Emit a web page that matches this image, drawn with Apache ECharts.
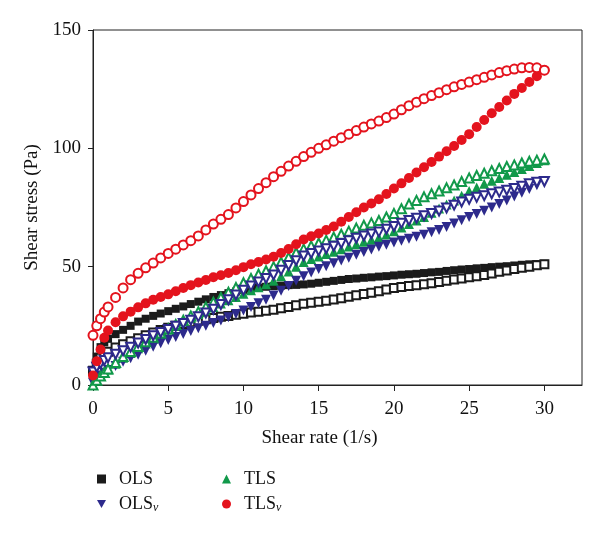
<!DOCTYPE html>
<html>
<head>
<meta charset="utf-8">
<script src="https://cdn.jsdelivr.net/npm/echarts@6/dist/echarts.min.js"></script>
<style>
    html, body { margin: 0; padding: 0; background: #fff; }
    #chart { width: 600px; height: 537px; }
</style>
</head>
<body>
<div id="chart"></div>
<script>
    // shear rate (1/s), shared by every curve
    const rate = [0, 0.25, 0.5, 0.75,
        1, 1.5, 2, 2.5, 3, 3.5, 4, 4.5, 5, 5.5,
        6, 6.5, 7, 7.5, 8, 8.5, 9, 9.5, 10, 10.5,
        11, 11.5, 12, 12.5, 13, 13.5, 14, 14.5, 15, 15.5,
        16, 16.5, 17, 17.5, 18, 18.5, 19, 19.5, 20, 20.5,
        21, 21.5, 22, 22.5, 23, 23.5, 24, 24.5, 25, 25.5,
        26, 26.5, 27, 27.5, 28, 28.5, 29, 29.5, 30];

    // shear stress (Pa): up curve = filled marks, down curve = open marks
    const olsUp = [5, 12, 16, 18,
        19.5, 21.5, 23.3, 25, 26.8, 28, 29.2, 30.2, 31.2, 32.2,
        33.2, 34.2, 35.2, 36.2, 37.2, 38, 38.8, 39.5, 40.2, 40.8,
        41.2, 41.5, 41.8, 42, 42.2, 42.3, 42.5, 42.8, 43.2, 43.6,
        44, 44.4, 44.8, 45, 45.3, 45.5, 45.8, 46, 46.3, 46.6,
        46.8, 47, 47.3, 47.6, 47.8, 48.2, 48.5, 48.8, 49, 49.3,
        49.5, 49.8, 50, 50.2, 50.5, 50.8, 51, 51.1, 51.2];
    const olsDown = [6, 9, 11.5, 13,
        14, 15.8, 17.2, 18.5, 19.8, 21, 22.2, 23.2, 24.2, 25,
        25.8, 26.5, 27.2, 27.8, 28.3, 28.8, 29.2, 29.7, 30.1, 30.6,
        31, 31.4, 31.8, 32.4, 33, 33.7, 34.3, 34.8, 35.2, 35.6,
        36.1, 36.7, 37.3, 37.9, 38.5, 39, 39.6, 40.3, 41, 41.4,
        41.8, 42.2, 42.6, 43, 43.5, 44, 44.6, 45, 45.5, 46,
        46.5, 47.1, 47.8, 48.4, 49, 49.5, 50, 50.6, 51];
    const olsvUp = [1, 2.5, 4, 5.2,
        6.3, 8, 9.8, 11.3, 12.8, 14.5, 16.2, 17.6, 19, 20.3,
        21.6, 22.8, 24, 25, 26.2, 27.3, 28.6, 30, 31.5, 33,
        34.5, 36, 37.8, 39.8, 41.8, 44, 46, 47.5, 49, 50.2,
        51.4, 52.6, 53.8, 55, 56.2, 57.3, 58.4, 59.3, 60.2, 61,
        61.8, 62.6, 63.5, 64.5, 65.5, 66.8, 68.2, 69.6, 71, 72.3,
        73.6, 75, 76.5, 78, 79.6, 81.2, 82.8, 84.4, 86];
    const olsvDown = [5.5, 7.5, 9, 10.3,
        11.5, 13, 14.5, 16, 17.7, 19.2, 20.8, 22.2, 23.5, 24.8,
        26, 27.4, 28.8, 30.4, 32, 34, 36, 38, 40, 41.8,
        43.5, 45, 46.5, 48.5, 50.5, 52.5, 54.5, 55.6, 56.6, 57.6,
        58.6, 59.8, 61, 62, 63, 63.8, 64.6, 65.8, 67, 68.3,
        69.5, 70.5, 71.5, 72.5, 73.5, 74.8, 76, 77.3, 78.5, 79.3,
        80, 80.8, 81.5, 82.3, 83, 84, 85, 85.7, 86];
    const tlsUp = [0, 2, 4, 5.3,
        6.5, 9, 11.5, 13.5, 15.5, 17.5, 19.5, 21.5, 23.3, 25,
        26.8, 28.4, 30, 31.5, 33, 34.4, 35.8, 37.2, 38.6, 40,
        41.3, 42.6, 44, 46, 48, 50, 52, 53.2, 54.3, 55.3,
        56.3, 57.4, 58.5, 59.5, 60.5, 61.4, 62.3, 63.6, 65, 66.5,
        68, 69.5, 71, 72.8, 74.6, 76.3, 78, 80, 82, 83.5,
        85, 86.3, 87.5, 88.8, 90, 91.3, 92.5, 93.8, 95];
    const tlsDown = [0, 2, 3.8, 5.3,
        6.8, 9.5, 12, 14.2, 16.3, 18.3, 20.2, 22, 23.8, 25.6,
        27.4, 29.2, 31, 33, 35, 37, 39.2, 41.2, 43.2, 45,
        46.8, 48.3, 50, 52, 54, 56, 57.5, 58.8, 60, 61.2,
        62.5, 63.7, 65, 66.3, 67.5, 68.5, 69.5, 71, 72.5, 74.5,
        76.5, 78, 79.5, 80.8, 82, 83.3, 84.5, 86, 87.5, 88.5,
        89.5, 90.5, 91.5, 92.3, 93, 93.8, 94.5, 95, 95.5];
    const tlsvUp = [4, 10, 15, 20,
        23, 26.5, 29, 31, 32.8, 34.5, 36, 37.2, 38.3, 39.6,
        41, 42.2, 43.3, 44.4, 45.5, 46.4, 47.3, 48.5, 49.8, 51,
        52, 53, 54.2, 55.8, 57.5, 59.5, 61.5, 62.8, 64, 65.5,
        67, 69, 71, 73, 75, 76.7, 78.5, 80.7, 83, 85.2,
        87.5, 89.8, 92, 94.2, 96.5, 98.8, 101, 103.5, 106, 109,
        112, 114.8, 117.5, 120.2, 123, 125.5, 128, 130.5, 133];
    const tlsvDown = [21, 25, 28, 30.8,
        33, 37, 41, 44.5, 47.2, 49.5, 51.5, 53.7, 55.6, 57.4,
        59.2, 61, 63, 65.5, 68, 70, 72, 74.8, 77.5, 80.3,
        83, 85.5, 88, 90.3, 92.5, 94.5, 96.5, 98.3, 100, 101.5,
        103, 104.5, 106, 107.5, 109, 110.3, 111.5, 113, 114.5, 116.3,
        118, 119.5, 121, 122.3, 123.5, 124.8, 126, 127, 128, 129,
        130, 131, 132, 132.8, 133.5, 134, 134.2, 134, 133];

    const xTicks = [0, 5, 10, 15, 20, 25, 30];
    const yTicks = [0, 50, 100, 150];

    const font = 'Liberation Serif';
    const black = '#1b1b1b', blue = '#2d2a8c', green = '#11994a', red = '#e4131d';
    const downTriangle = 'path://M0,0 L10,0 L5,9 Z';

    function pts (ys) {
        return rate.map((x, i) => [x, ys[i]]);
    }

    function mk (name, ys, symbol, color, size, rotate) {
        return {
            name: name,
            type: 'scatter',
            data: pts(ys),
            symbol: symbol,
            symbolSize: size,
            symbolRotate: rotate || 0,
            itemStyle: {
                color: color,
                borderColor: color,
                borderWidth: symbol.indexOf('empty') === 0 ? 1.4 : 0,
                opacity: 1
            },
            emphasis: { disabled: true }
        };
    }

    const legendBase = {
        orient: 'vertical',
        itemWidth: 9,
        itemHeight: 9,
        itemGap: 7,
        selectedMode: false,
        formatter: function (name) {
            if (name.endsWith('v')) {
                return '{m|' + name.slice(0, -1) + '}{s|ν}';
            }
            return '{m|' + name + '}';
        },
        textStyle: {
            color: '#111',
            padding: [0, 0, 0, 8],
            rich: {
                m: { fontFamily: font, fontSize: 18, lineHeight: 20, color: '#111' },
                s: { fontFamily: font, fontSize: 12, fontStyle: 'italic', lineHeight: 12, verticalAlign: 'bottom', color: '#111' }
            }
        }
    };

    const chart = echarts.init(document.getElementById('chart'));
    const option = {
        animation: false,
        backgroundColor: '#fff',
        grid: {
            left: 93,
            right: 18,
            top: 30,
            bottom: 152,
            show: true,
            borderColor: '#222',
            borderWidth: 1
        },
        legend: [
            Object.assign({}, legendBase, {
                left: 92, top: 465,
                data: [{ name: 'OLS', icon: 'rect' }, { name: 'OLSv', icon: downTriangle }]
            }),
            Object.assign({}, legendBase, {
                left: 217, top: 465,
                data: [{ name: 'TLS', icon: 'triangle' }, { name: 'TLSv', icon: 'circle' }]
            })
        ],
        xAxis: {
            type: 'value',
            min: 0,
            max: 32.5,
            interval: 5,
            name: 'Shear rate (1/s)',
            nameLocation: 'middle',
            nameGap: 44,
            nameTextStyle: { fontFamily: font, fontSize: 19, color: '#111', padding: [0, 36, 0, 0] },
            splitLine: { show: false },
            axisLine: { show: true, onZero: false, lineStyle: { color: '#222', width: 1 } },
            axisTick: { show: true, length: 6, lineStyle: { color: '#222' }, customValues: xTicks },
            axisLabel: { fontFamily: font, fontSize: 19, color: '#111', margin: 15, customValues: xTicks }
        },
        yAxis: {
            type: 'value',
            min: 0,
            max: 150,
            interval: 50,
            name: 'Shear stress (Pa)',
            nameLocation: 'middle',
            nameGap: 50,
            nameTextStyle: { fontFamily: font, fontSize: 19, color: '#111' },
            splitLine: { show: false },
            axisLine: { show: true, lineStyle: { color: '#222', width: 1 } },
            axisTick: { show: true, length: 5, lineStyle: { color: '#222' }, customValues: yTicks },
            axisLabel: { fontFamily: font, fontSize: 19, color: '#111', margin: 12, customValues: yTicks }
        },
        series: [
            mk('OLS', olsUp, 'rect', black, 8),
            mk('OLS down', olsDown, 'emptyRect', black, 8),
            mk('TLS', tlsUp, 'triangle', green, 10),
            mk('OLSv', olsvUp, 'triangle', blue, 10, 180),
            mk('TLS down', tlsDown, 'emptyTriangle', green, 9),
            mk('OLSv down', olsvDown, 'emptyTriangle', blue, 9, 180),
            mk('TLSv', tlsvUp, 'circle', red, 10),
            mk('TLSv down', tlsvDown, 'emptyCircle', red, 9)
        ]
    };
    chart.setOption(option);
</script>
</body>
</html>
